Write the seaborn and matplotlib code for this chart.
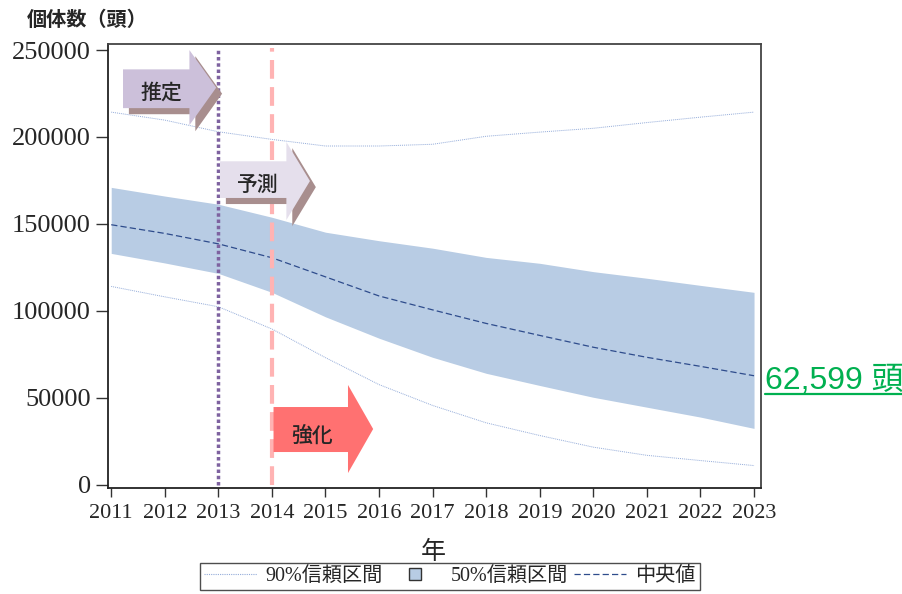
import numpy as np
import pandas as pd
import matplotlib
matplotlib.use("Agg")
import matplotlib.pyplot as plt
from matplotlib.lines import Line2D
from matplotlib.patches import Polygon
import seaborn as sns

# ---- data ----
years = [2011, 2012, 2013, 2014, 2015, 2016, 2017, 2018, 2019, 2020, 2021, 2022, 2023]
median = [149500, 144500, 138500, 130500, 119500, 108500, 100500, 92700, 85800, 79000, 73200, 68000, 62599]
ci50_hi = [171000, 166000, 161300, 153800, 145200, 140300, 136000, 130700, 127300, 122500, 118700, 114600, 110600]
ci50_lo = [133000, 127500, 121500, 110600, 96500, 84200, 73200, 64000, 57000, 50200, 44500, 38800, 32300]
ci90_hi = [214300, 209700, 203000, 198600, 194800, 194800, 195800, 200400, 202800, 205000, 208300, 211400, 214300]
ci90_lo = [114000, 108000, 102300, 89500, 73000, 57500, 45500, 35500, 28200, 21500, 16800, 13800, 10900]

yticks = [0, 50000, 100000, 150000, 200000, 250000]
estimate_end = 2013
control_start = 2014
final_label = "62,599 頭"

df = pd.DataFrame({"year": years, "median": median,
                   "hi90": ci90_hi, "lo90": ci90_lo})

# ---- style ----
sns.set_style("white")
SERIF = ["Liberation Serif", "Noto Sans CJK JP"]
JP = ["Noto Sans CJK JP", "DejaVu Sans"]
plt.rcParams["font.family"] = SERIF

BAND = "#B8CCE4"
MED = "#2E4C8C"
CI90 = "#93ABD9"

fig = plt.figure(figsize=(9.03, 5.94), dpi=100)
ax = fig.add_axes([108 / 903, 1 - 488 / 594, 653 / 903, 444 / 594])

# 50% band
ax.fill_between(years, ci50_lo, ci50_hi, color=BAND, lw=0, zorder=1)

# 90% interval lines and median
sns.lineplot(data=df, x="year", y="hi90", ax=ax, color=CI90, lw=0.7,
             linestyle=(0, (1, 1)), zorder=2)
sns.lineplot(data=df, x="year", y="lo90", ax=ax, color=CI90, lw=0.7,
             linestyle=(0, (1, 1)), zorder=2)
sns.lineplot(data=df, x="year", y="median", ax=ax, color=MED, lw=0.9,
             linestyle=(0, (5, 2.5)), zorder=2)

# period boundaries
ax.vlines(estimate_end, 0, 250000, color="#7E62A0", lw=2.5,
          linestyle=(0, (1, 0.8)), zorder=3)
ax.vlines(control_start, 0, 251000, color="#FFB3B3", lw=3,
          linestyle=(0, (4.5, 2)), zorder=3)


def arrow(x0, x1, xtip, body, head):
    ymid = (head[0] + head[1]) / 2
    return [(x0, body[0]), (x1, body[0]), (x1, head[0]), (xtip, ymid),
            (x1, head[1]), (x1, body[1]), (x0, body[1])]


def shifted(pts, dx, dy):
    return [(x + dx, y + dy) for x, y in pts]


SHADOW = "#A88E8E"
p_est = arrow(2011.22, 2012.46, 2012.96, (216600, 238900), (206800, 250000))
p_pred = arrow(2013.03, 2014.27, 2014.71, (164900, 186000), (152200, 197100))
p_ctrl = arrow(2014.03, 2015.42, 2015.89, (18700, 44600), (6600, 57300))

for pts, col in [(p_est, "#CCC0DA"), (p_pred, "#E5DFEC")]:
    ax.add_patch(Polygon(shifted(pts, 0.11, -3500), closed=True,
                         facecolor=SHADOW, edgecolor="none", zorder=4))
    ax.add_patch(Polygon(pts, closed=True, facecolor=col,
                         edgecolor="none", zorder=4.5))
ax.add_patch(Polygon(p_ctrl, closed=True, facecolor="#FF7171",
                     edgecolor="none", zorder=4.5))

for x, y, s in [(2011.93, 225500, "推定"), (2013.74, 172300, "予測"),
                (2014.75, 27900, "強化")]:
    ax.text(x, y, s, family=JP, fontsize=15, fontweight="medium",
            ha="center", va="center", zorder=5)

# ---- axes ----
ax.set_xlim(2010.94, 2023.13)
ax.set_ylim(-2000, 253500)
ax.set_xticks(years)
ax.set_xticklabels([str(y) for y in years], fontsize=16)
ax.set_yticks(yticks)
ax.set_yticklabels([str(v) for v in yticks], fontsize=19)
ax.tick_params(axis="y", direction="out", length=8.5, width=1,
               color="#333333", pad=4, left=True)
ax.tick_params(axis="x", direction="out", length=6.5, width=1,
               color="#333333", pad=5, bottom=True)
ax.set_ylabel("")
ax.set_xlabel("年", family=SERIF, fontsize=18, va="center")
ax.xaxis.set_label_coords(0.498, -0.146)

for side in ["left", "bottom"]:
    ax.spines[side].set_color("#222222")
    ax.spines[side].set_linewidth(1.3)
for side in ["top", "right"]:
    ax.spines[side].set_color("#444444")
    ax.spines[side].set_linewidth(1.3)
    ax.spines[side].set_visible(True)

fig.text(27 / 903, 1 - 19 / 594, "個体数（頭）", family=JP, fontsize=14.5,
         fontweight="bold", ha="left", va="center")

# final median value
fig.text(765 / 903, 1 - 389 / 594, final_label,
         family=["Liberation Sans", "Noto Sans CJK JP"], fontsize=23,
         color="#00B050", ha="left", va="baseline")
fig.add_artist(Line2D([765 / 903, 902 / 903], [1 - 393.5 / 594] * 2,
                      color="#00B050", lw=1.6, transform=fig.transFigure))

# legend
handles = [
    Line2D([], [], color=CI90, lw=0.8, linestyle=(0, (1, 1))),
    Line2D([], [], marker="s", markersize=9, markerfacecolor=BAND,
           markeredgecolor="#333333", markeredgewidth=1, linestyle="none"),
    Line2D([], [], color=MED, lw=0.9, linestyle=(0, (5, 2.5))),
]
labels = ["90%信頼区間", "50%信頼区間", "中央値"]
leg = fig.legend(handles, labels, loc="upper center", ncol=3,
                 bbox_to_anchor=(450 / 903, 1 - 563 / 594),
                 prop={"family": SERIF, "size": 14.5}, frameon=True,
                 fancybox=False, edgecolor="#222222", handlelength=2.6,
                 handletextpad=0.45, columnspacing=0.3, borderpad=0.2,
                 borderaxespad=0)
leg.get_frame().set_linewidth(1.0)

fig.savefig("out.png", dpi=100)
